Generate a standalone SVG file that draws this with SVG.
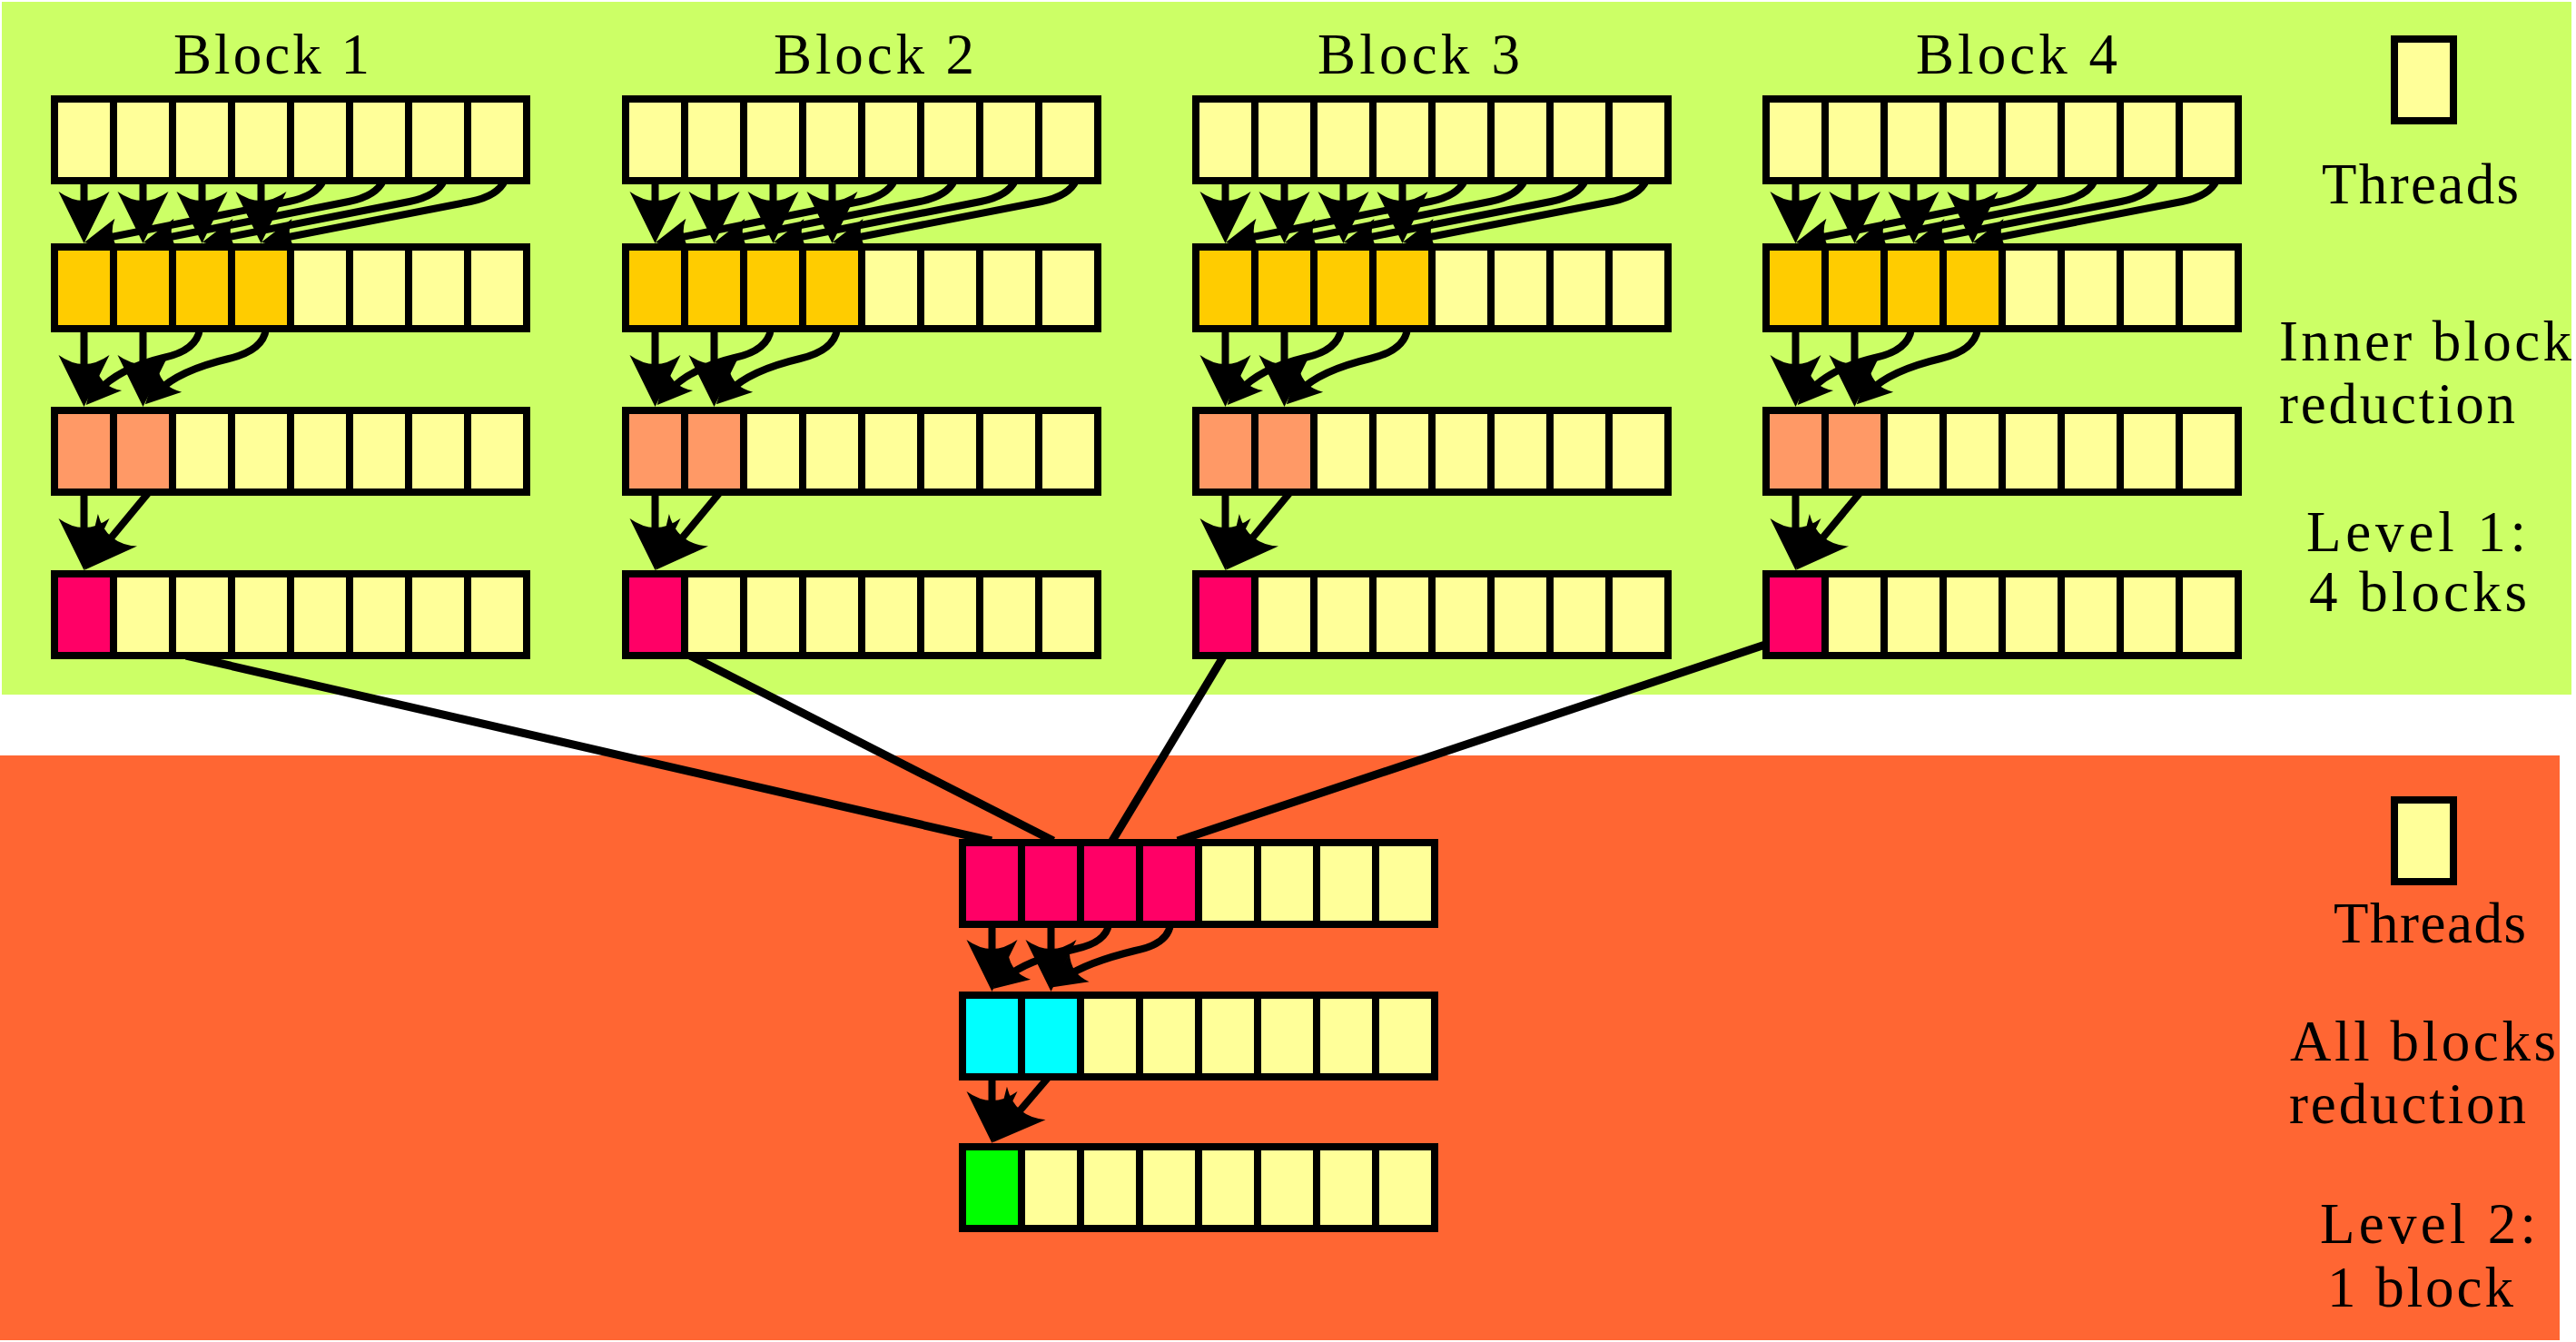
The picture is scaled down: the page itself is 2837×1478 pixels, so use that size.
<svg xmlns="http://www.w3.org/2000/svg" xmlns:xlink="http://www.w3.org/1999/xlink" width="2837" height="1478" viewBox="0 0 2837 1478">
<style>
.c{fill:#FFFF99;stroke:#000;stroke-width:8}
.gold{fill:#FFCC00;stroke:#000;stroke-width:8}
.sal{fill:#FF9966;stroke:#000;stroke-width:8}
.pink{fill:#FF0066;stroke:#000;stroke-width:8}
.cyan{fill:#00FFFF;stroke:#000;stroke-width:8}
.lime{fill:#00FF00;stroke:#000;stroke-width:8}
.ln{fill:none;stroke:#000;stroke-width:8}
.lk{fill:none;stroke:#000;stroke-width:9}
.big{marker-end:url(#big)}
.sm{marker-end:url(#small)}
.t{font-family:"Liberation Serif","Times New Roman",serif;font-size:63px;fill:#000}
</style>
<defs>
<marker id="big" markerUnits="userSpaceOnUse" viewBox="-35 -35 75 70" markerWidth="75" markerHeight="70" refX="0" refY="0" orient="auto"><path d="M32,0 L-25,-28 Q-5,0 -25,28 Z" fill="#000" stroke="none"/></marker>
<marker id="small" markerUnits="userSpaceOnUse" viewBox="-25 -25 50 50" markerWidth="50" markerHeight="50" refX="0" refY="0" orient="auto"><path d="M20,0 L-18,-19 Q-6,0 -18,19 Z" fill="#000" stroke="none"/></marker>
<g id="r8">
<rect class="c" x="0" y="0" width="65" height="90"/><rect class="c" x="65" y="0" width="65" height="90"/><rect class="c" x="130" y="0" width="65" height="90"/><rect class="c" x="195" y="0" width="65" height="90"/><rect class="c" x="260" y="0" width="65" height="90"/><rect class="c" x="325" y="0" width="65" height="90"/><rect class="c" x="390" y="0" width="65" height="90"/><rect class="c" x="455" y="0" width="65" height="90"/>
</g>
<g id="upconn">
<path class="ln big" d="M32.5,199V236"/><path class="ln big" d="M97.5,199V236"/><path class="ln big" d="M162.5,199V236"/><path class="ln big" d="M227.5,199V236"/>
<path class="ln sm" d="M296,199 Q288,216 258,222 L52.5,263"/>
<path class="ln sm" d="M362,199 Q354,216 324,222 L117.5,263"/>
<path class="ln sm" d="M429,199 Q421,216 391,222 L182.5,263"/>
<path class="ln sm" d="M496,199 Q488,216 458,222 L247.5,263"/>
<path class="ln big" d="M32.5,362V416"/><path class="ln big" d="M97.5,362V416"/>
<path class="ln sm" d="M160,362 Q157,386 120,394 Q70,406 48,431"/>
<path class="ln sm" d="M233,362 Q230,386 192,395 Q137,408 114,431"/>
<path class="ln big" d="M32.5,542V596"/>
<path class="ln big" d="M104,542 L53.5,603"/>
</g>
</defs>

<rect id="level1-bg" x="2" y="2" width="2830" height="763" fill="#CCFF66"/>
<rect id="level2-bg" x="0" y="832" width="2819" height="644" fill="#FF6633"/>

<g id="connectors">
<use xlink:href="#upconn" href="#upconn" transform="translate(60,0)"/>
<use xlink:href="#upconn" href="#upconn" transform="translate(689,0)"/>
<use xlink:href="#upconn" href="#upconn" transform="translate(1317,0)"/>
<use xlink:href="#upconn" href="#upconn" transform="translate(1945,0)"/>
<path class="lk" d="M205,722 L1092,926"/>
<path class="lk" d="M760,722 L1160,926"/>
<path class="lk" d="M1348,722 L1225,926"/>
<path class="lk" d="M1950,708 L1297,926"/>
<path class="ln big" d="M1092.5,1018V1060"/><path class="ln big" d="M1157.5,1018V1060"/>
<path class="ln sm" d="M1221,1018 Q1218,1038 1185,1045 Q1130,1058 1109,1076"/>
<path class="ln sm" d="M1289,1018 Q1286,1040 1250,1047 Q1197,1060 1174,1076"/>
<path class="ln big" d="M1092.5,1186V1227"/>
<path class="ln big" d="M1155,1186 L1114,1234"/>
</g>

<g id="block1">
<text class="t" x="191" y="81" textLength="216" lengthAdjust="spacing">Block 1</text>
<g id="b1-r1" transform="translate(60,109)"><use href="#r8" xlink:href="#r8"/></g>
<g id="b1-r2" transform="translate(60,272)"><use href="#r8" xlink:href="#r8"/><rect class="gold" x="0" width="65" height="90"/><rect class="gold" x="65" width="65" height="90"/><rect class="gold" x="130" width="65" height="90"/><rect class="gold" x="195" width="65" height="90"/></g>
<g id="b1-r3" transform="translate(60,452)"><use href="#r8" xlink:href="#r8"/><rect class="sal" x="0" width="65" height="90"/><rect class="sal" x="65" width="65" height="90"/></g>
<g id="b1-r4" transform="translate(60,632)"><use href="#r8" xlink:href="#r8"/><rect class="pink" x="0" width="65" height="90"/></g>
</g>

<g id="block2">
<text class="t" x="852" y="81" textLength="221" lengthAdjust="spacing">Block 2</text>
<g id="b2-r1" transform="translate(689,109)"><use href="#r8" xlink:href="#r8"/></g>
<g id="b2-r2" transform="translate(689,272)"><use href="#r8" xlink:href="#r8"/><rect class="gold" x="0" width="65" height="90"/><rect class="gold" x="65" width="65" height="90"/><rect class="gold" x="130" width="65" height="90"/><rect class="gold" x="195" width="65" height="90"/></g>
<g id="b2-r3" transform="translate(689,452)"><use href="#r8" xlink:href="#r8"/><rect class="sal" x="0" width="65" height="90"/><rect class="sal" x="65" width="65" height="90"/></g>
<g id="b2-r4" transform="translate(689,632)"><use href="#r8" xlink:href="#r8"/><rect class="pink" x="0" width="65" height="90"/></g>
</g>

<g id="block3">
<text class="t" x="1451" y="81" textLength="223" lengthAdjust="spacing">Block 3</text>
<g id="b3-r1" transform="translate(1317,109)"><use href="#r8" xlink:href="#r8"/></g>
<g id="b3-r2" transform="translate(1317,272)"><use href="#r8" xlink:href="#r8"/><rect class="gold" x="0" width="65" height="90"/><rect class="gold" x="65" width="65" height="90"/><rect class="gold" x="130" width="65" height="90"/><rect class="gold" x="195" width="65" height="90"/></g>
<g id="b3-r3" transform="translate(1317,452)"><use href="#r8" xlink:href="#r8"/><rect class="sal" x="0" width="65" height="90"/><rect class="sal" x="65" width="65" height="90"/></g>
<g id="b3-r4" transform="translate(1317,632)"><use href="#r8" xlink:href="#r8"/><rect class="pink" x="0" width="65" height="90"/></g>
</g>

<g id="block4">
<text class="t" x="2110" y="81" textLength="222" lengthAdjust="spacing">Block 4</text>
<g id="b4-r1" transform="translate(1945,109)"><use href="#r8" xlink:href="#r8"/></g>
<g id="b4-r2" transform="translate(1945,272)"><use href="#r8" xlink:href="#r8"/><rect class="gold" x="0" width="65" height="90"/><rect class="gold" x="65" width="65" height="90"/><rect class="gold" x="130" width="65" height="90"/><rect class="gold" x="195" width="65" height="90"/></g>
<g id="b4-r3" transform="translate(1945,452)"><use href="#r8" xlink:href="#r8"/><rect class="sal" x="0" width="65" height="90"/><rect class="sal" x="65" width="65" height="90"/></g>
<g id="b4-r4" transform="translate(1945,632)"><use href="#r8" xlink:href="#r8"/><rect class="pink" x="0" width="65" height="90"/></g>
</g>

<g id="level2-block">
<g id="l2-r1" transform="translate(1060,928)"><use href="#r8" xlink:href="#r8"/><rect class="pink" x="0" width="65" height="90"/><rect class="pink" x="65" width="65" height="90"/><rect class="pink" x="130" width="65" height="90"/><rect class="pink" x="195" width="65" height="90"/></g>
<g id="l2-r2" transform="translate(1060,1096)"><use href="#r8" xlink:href="#r8"/><rect class="cyan" x="0" width="65" height="90"/><rect class="cyan" x="65" width="65" height="90"/></g>
<g id="l2-r3" transform="translate(1060,1263)"><use href="#r8" xlink:href="#r8"/><rect class="lime" x="0" width="65" height="90"/></g>
</g>

<g id="legend1">
<rect class="c" x="2637" y="43" width="65" height="90"/>
<text class="t" x="2557" y="224" textLength="217" lengthAdjust="spacing">Threads</text>
<text class="t" x="2510" y="397" textLength="322" lengthAdjust="spacing">Inner block</text>
<text class="t" x="2510" y="466" textLength="260" lengthAdjust="spacing">reduction</text>
<text class="t" x="2540" y="607" textLength="242" lengthAdjust="spacing">Level 1:</text>
<text class="t" x="2543" y="673" textLength="240" lengthAdjust="spacing">4 blocks</text>
</g>

<g id="legend2">
<rect class="c" x="2637" y="881" width="65" height="90"/>
<text class="t" x="2570" y="1038" textLength="212" lengthAdjust="spacing">Threads</text>
<text class="t" x="2522" y="1168" textLength="293" lengthAdjust="spacing">All blocks</text>
<text class="t" x="2521" y="1237" textLength="261" lengthAdjust="spacing">reduction</text>
<text class="t" x="2555" y="1369" textLength="238" lengthAdjust="spacing">Level 2:</text>
<text class="t" x="2563" y="1439" textLength="205" lengthAdjust="spacing">1 block</text>
</g>
</svg>
